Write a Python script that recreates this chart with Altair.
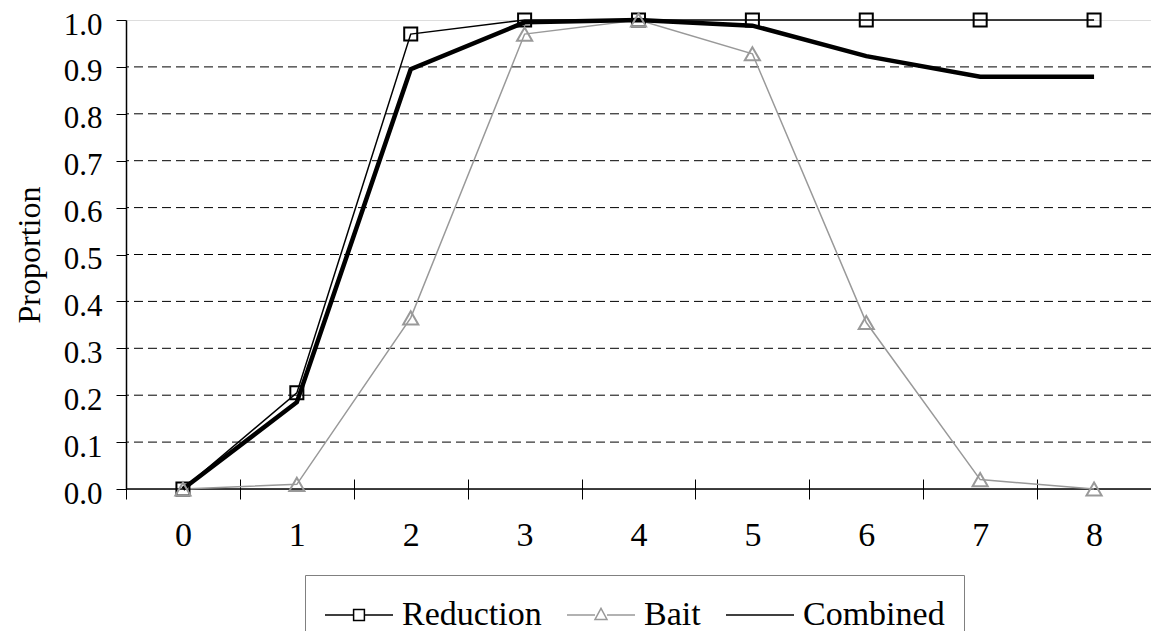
import altair as alt
import pandas as pd

categories = ["0", "1", "2", "3", "4", "5", "6", "7", "8"]
reduction = [0.0, 0.205, 0.97, 1.0, 1.0, 1.0, 1.0, 1.0, 1.0]
bait = [0.0, 0.01, 0.365, 0.97, 1.0, 0.928, 0.355, 0.02, 0.0]
combined = [0.0, 0.185, 0.895, 0.995, 1.0, 0.988, 0.923, 0.879, 0.879]
series_names = ["Reduction", "Bait", "Combined"]
y_ticks = [0.0, 0.1, 0.2, 0.3, 0.4, 0.5, 0.6, 0.7, 0.8, 0.9, 1.0]
grid_values = [0.1, 0.2, 0.3, 0.4, 0.5, 0.6, 0.7, 0.8, 0.9]
baseline_value = [0.0]

rows = []
for name, vals in zip(series_names, [reduction, bait, combined]):
    for c, v in zip(categories, vals):
        rows.append({"x": c, "series": name, "value": v})
df = pd.DataFrame(rows)
grid_df = pd.DataFrame({"value": grid_values})
base_df = pd.DataFrame({"value": baseline_value})

FONT = "'Liberation Serif', 'Times New Roman', serif"
x_scale = alt.Scale(type="band", domain=categories, paddingInner=0, paddingOuter=0)
y_scale = alt.Scale(domain=[0, 1], nice=False)

stroke_scale = alt.Scale(domain=series_names, range=["#000000", "#999999", "#000000"])
width_scale = alt.Scale(domain=series_names, range=[1.5, 1.5, 4.5])
# legend glyphs: a line with the series marker in the middle
legend_shapes = alt.Scale(
    domain=series_names,
    range=[
        "M-1,0H0.43M0.97,0H2.4M0.43,-0.27H0.97V0.27H0.43Z",
        "M-1,0H0.4M1,0H2.4M0.7,-0.33L1.0,0.22H0.4Z",
        "M-1,0H2.4",
    ],
)

x_axis = alt.Axis(
    title=None, labelAngle=0, tickBand="extent", tickSize=20, tickColor="black",
    tickWidth=1, domain=False, offset=-10, labelFont=FONT, labelFontSize=34,
    labelColor="black", labelPadding=19, grid=False, orient="bottom",
)
y_axis = alt.Axis(
    values=y_ticks, format=".1f", title="Proportion", grid=False, tickSize=10,
    tickColor="black", domainColor="black", domainWidth=1.5, labelFont=FONT,
    labelFontSize=31, labelColor="black", labelPadding=14, labelOffset=5,
    titleFont=FONT, titleFontSize=32, titleFontWeight="normal", titleColor="black",
    titlePadding=17,
)

X = alt.X("x:O", scale=x_scale, axis=x_axis, sort=categories)
Y = alt.Y("value:Q", scale=y_scale, axis=y_axis)

gridlines = alt.Chart(grid_df).mark_rule(
    color="black", strokeWidth=1, strokeDash=[9, 5]
).encode(y=Y)

baseline = alt.Chart(base_df).mark_rule(color="black", strokeWidth=1.5).encode(y=Y)

def series_line(name, color, width):
    return alt.Chart(df).transform_filter(alt.datum.series == name).mark_line(
        color=color, strokeWidth=width
    ).encode(x=X, y=Y)

line_bait = series_line("Bait", "#999999", 1.5)
line_red = series_line("Reduction", "black", 1.5)
line_comb = series_line("Combined", "black", 4.5)

sq = alt.Chart(df).transform_filter(alt.datum.series == "Reduction").mark_point(
    shape="square", filled=False, size=170, strokeWidth=2, color="black", opacity=1
).encode(x=X, y=Y)

tri = alt.Chart(df).transform_filter(alt.datum.series == "Bait").mark_point(
    shape="triangle-up", filled=False, size=230, strokeWidth=2, color="#999999", opacity=1
).encode(x=X, y=Y)

legend_layer = alt.Chart(df).transform_filter(alt.datum.value > 2).mark_point(
    filled=False, opacity=1
).encode(
    shape=alt.Shape("series:N", scale=legend_shapes, legend=alt.Legend(
        title=None, orient="none", legendX=179, legendY=555, direction="horizontal",
        symbolSize=1600, labelFont=FONT, labelFontSize=34, labelColor="black",
        labelOffset=36, columnPadding=22, padding=19, strokeColor="#808080",
        symbolOpacity=1, labelLimit=400,
    )),
    stroke=alt.Stroke("series:N", scale=stroke_scale),
    strokeWidth=alt.StrokeWidth("series:N", scale=width_scale),
)

chart = alt.layer(
    gridlines, baseline, line_bait, line_red, line_comb, sq, tri, legend_layer
).properties(
    width=1025, height=469,
    autosize=alt.AutoSizeParams(type="none"),
    padding={"left": 118, "top": 12, "right": 0, "bottom": 142},
).configure_view(stroke="#808080", strokeWidth=2).configure(background="white")

chart.save("out.html", embed_options={"renderer": "svg", "actions": False})
